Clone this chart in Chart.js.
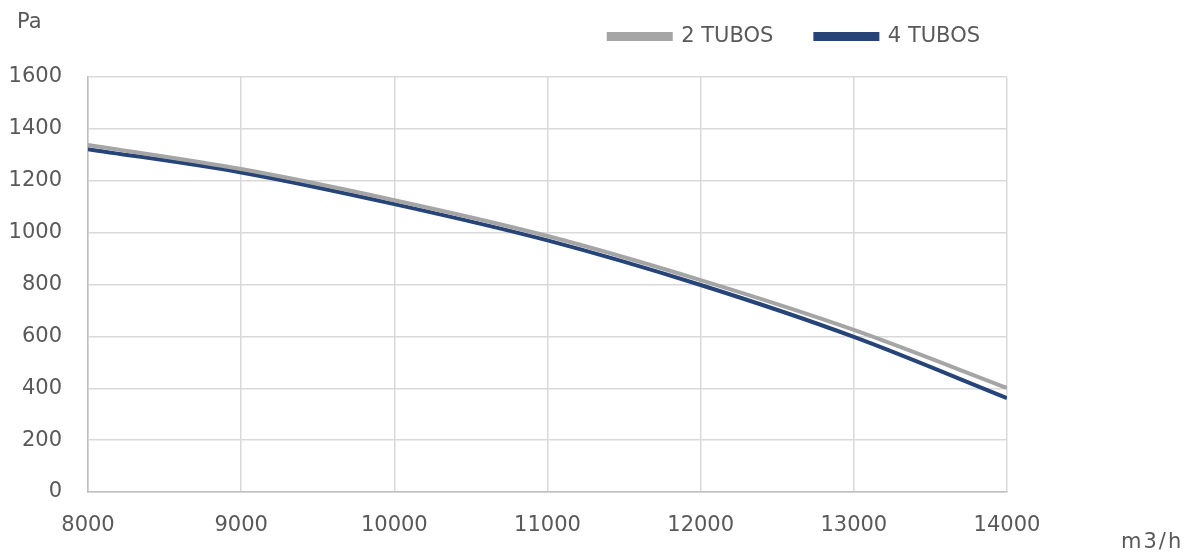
<!DOCTYPE html>
<html>
<head>
<meta charset="utf-8">
<script src="https://cdn.jsdelivr.net/npm/chart.js@4"></script>
<style>
    body { margin: 0; background: #fff; }
    #wrap { position: relative; width: 1196px; height: 558px; }
    .lbl { position: absolute; font-family: "DejaVu Sans", sans-serif; font-size: 21px; color: #595959; }
</style>
</head>
<body>
<div id="wrap">
    <canvas id="chartCurva" width="1196" height="558"></canvas>
    <div class="lbl" style="left:17px; top:9px;">Pa</div>
    <div class="lbl" style="left:1121px; top:529px; letter-spacing:2px;">m3/h</div>
</div>
<script>
// caudal m3/h
const caudales = [8000, 9000, 10000, 11000, 12000, 13000, 14000];
const presion2Tubos = [1338, 1245, 1125, 987, 817, 625, 401];
const presion4Tubos = [1322, 1232, 1110, 970, 798, 598, 362];
const ticksY = [0, 200, 400, 600, 800, 1000, 1200, 1400, 1600];

const FUENTE = "'DejaVu Sans', sans-serif";
const GRIS_TXT = "#595959";

const puntos = (serie) => caudales.map((x, i) => ({ x: x, y: serie[i] }));

// mueve la leyenda arriba/derecha sin tocar el area del grafico
const moverLeyenda = {
    id: "moverLeyenda",
    afterLayout(chart) {
        const lg = chart.legend;
        lg.top -= 20; lg.bottom -= 20;
        lg.left += 15; lg.right += 15;
    }
};

const ctx = document.getElementById("chartCurva").getContext("2d");

new Chart(ctx, {
    type: "line",
    data: {
        datasets: [
            {
                label: "2 TUBOS",
                data: puntos(presion2Tubos),
                borderColor: "#a5a5a5",
                backgroundColor: "#a5a5a5",
                borderWidth: 4,
                pointRadius: 0,
                cubicInterpolationMode: "monotone",
            },
            {
                label: "4 TUBOS",
                data: puntos(presion4Tubos),
                borderColor: "#264478",
                backgroundColor: "#264478",
                borderWidth: 4,
                pointRadius: 0,
                cubicInterpolationMode: "monotone",
            },
        ],
    },
    plugins: [moverLeyenda],
    options: {
        responsive: false,
        animation: false,
        layout: { padding: { left: 0, right: 189, top: 4, bottom: 0 } },
        plugins: {
            tooltip: { enabled: false },
            legend: {
                position: "top",
                align: "end",
                labels: {
                    boxWidth: 62,
                    boxHeight: 5,
                    padding: 42,
                    color: GRIS_TXT,
                    font: { family: FUENTE, size: 21 },
                },
            },
        },
        scales: {
            x: {
                type: "linear",
                min: 8000,
                max: 14000,
                afterBuildTicks: (s) => { s.ticks = caudales.map(v => ({ value: v })); },
                afterFit: (s) => { s.height = 66; },
                grid: { color: "#d9d9d9", lineWidth: 1.5, drawTicks: false },
                border: { color: "#bfbfbf", width: 1.5 },
                ticks: {
                    color: GRIS_TXT,
                    font: { family: FUENTE, size: 21 },
                    padding: 21,
                    maxRotation: 0,
                    callback: (v) => String(v),
                },
            },
            y: {
                min: 0,
                max: 1600,
                afterBuildTicks: (s) => { s.ticks = ticksY.map(v => ({ value: v })); },
                afterFit: (s) => { s.width = 88; },
                grid: { color: "#d9d9d9", lineWidth: 1.5, drawTicks: false },
                border: { color: "#bfbfbf", width: 1.5 },
                ticks: {
                    color: GRIS_TXT,
                    font: { family: FUENTE, size: 21 },
                    padding: 26,
                    callback: (v) => String(v),
                },
            },
        },
    },
});
</script>
</body>
</html>
